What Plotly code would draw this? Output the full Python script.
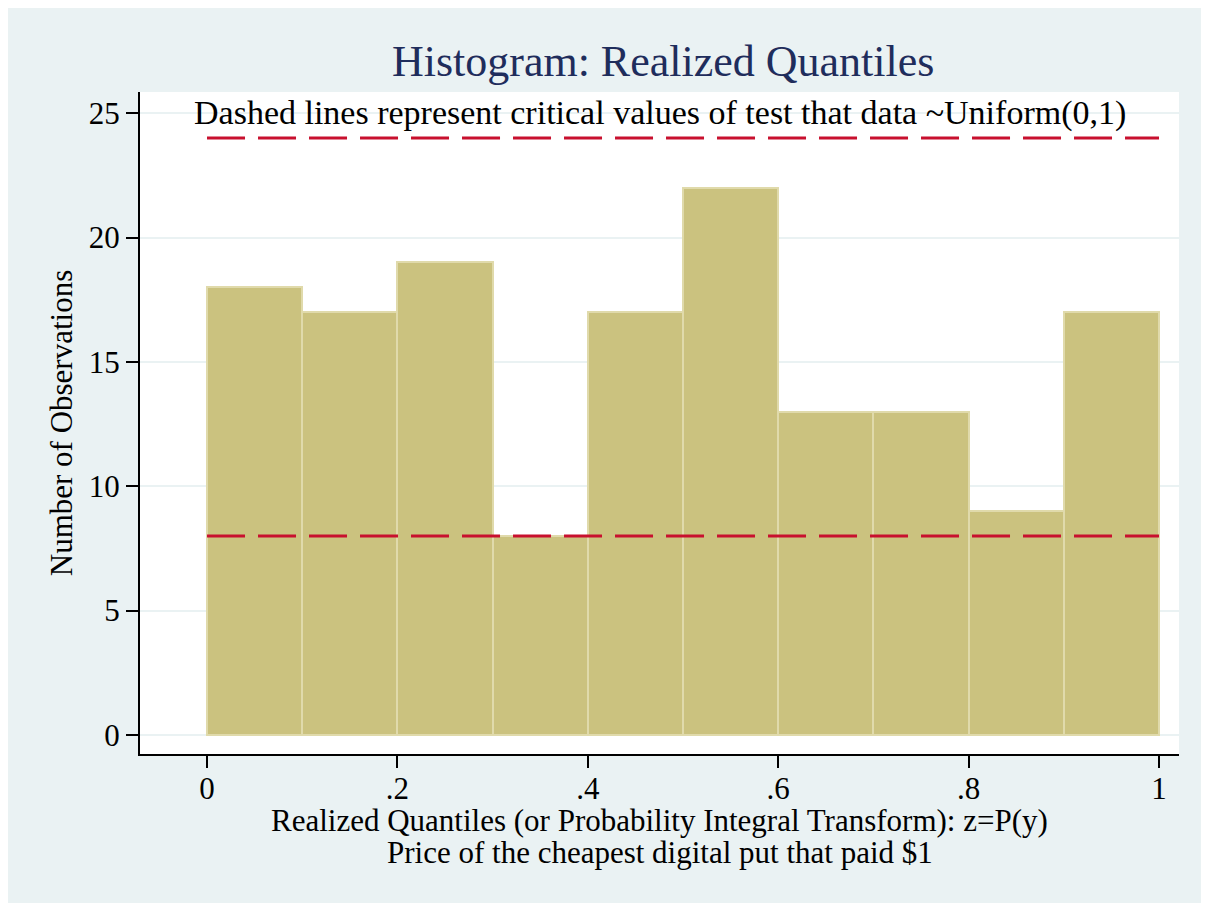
import plotly.graph_objects as go

# histogram of realized quantiles, 10 bins on [0, 1]
bin_left = [0.0, 0.1, 0.2, 0.3, 0.4, 0.5, 0.6, 0.7, 0.8, 0.9]
bin_width = 0.1
counts = [18, 17, 19, 8, 17, 22, 13, 13, 9, 17]

# critical values of the uniformity test
crit_low = 8
crit_high = 24
crit_x = [0.0, 1.0]

x_ticks = [0, 0.2, 0.4, 0.6, 0.8, 1]
x_labels = ['0', '.2', '.4', '.6', '.8', '1']
y_ticks = [0, 5, 10, 15, 20, 25]

BG = '#EAF2F3'
BAR = '#CBC27F'
BAR_EDGE = '#E0DAAB'
RED = '#C8102E'
SERIF = 'Liberation Serif, Times New Roman, serif'

fig = go.Figure()

fig.add_bar(
    x=[b + bin_width / 2 for b in bin_left], y=counts, width=bin_width,
    marker=dict(color=BAR, line=dict(color=BAR_EDGE, width=2)),
    showlegend=False,
)

for c in (crit_high, crit_low):
    fig.add_scatter(
        x=crit_x, y=[c, c], mode='lines',
        line=dict(color=RED, width=3, dash='38px,13px'),
        showlegend=False,
    )

# page body margin (8px) gives the thin white strip round the figure
fig.update_layout(
    width=1201, height=895,
    margin=dict(l=132, r=30, t=84, b=149),
    paper_bgcolor=BG,
    plot_bgcolor='white',
    font=dict(family=SERIF, size=31, color='black'),
    title=dict(
        text='Histogram: Realized Quantiles',
        font=dict(family=SERIF, size=44, color='#1F2D5C'),
        x=0.5455, xanchor='center', y=0.9408, yanchor='middle',
    ),
    bargap=0,
    annotations=[
        dict(text='Dashed lines represent critical values of test that data ~Uniform(0,1)',
             xref='paper', x=0.5, yref='y', y=25, xanchor='center', yanchor='middle',
             showarrow=False, font=dict(size=34)),
        dict(text='Realized Quantiles (or Probability Integral Transform): z=P(y)',
             xref='paper', x=0.5, yref='paper', y=-0.1012, xanchor='center', yanchor='middle',
             showarrow=False, font=dict(size=31)),
        dict(text='Price of the cheapest digital put that paid $1',
             xref='paper', x=0.5, yref='paper', y=-0.1495, xanchor='center', yanchor='middle',
             showarrow=False, font=dict(size=31)),
    ],
)

fig.update_xaxes(
    range=[-0.0704, 1.021], tickvals=x_ticks, ticktext=x_labels,
    ticks='outside', ticklen=12, tickwidth=2, tickcolor='black',
    ticklabelstandoff=-6,
    showline=True, linecolor='black', linewidth=2,
    showgrid=False, zeroline=False,
)
fig.update_yaxes(
    range=[-0.765, 25.85], tickvals=y_ticks,
    ticks='outside', ticklen=12, tickwidth=2, tickcolor='black',
    showline=True, linecolor='black', linewidth=2,
    showgrid=True, gridcolor=BG, gridwidth=2, zeroline=False,
    title=dict(text='Number of Observations', font=dict(size=31), standoff=7),
)

fig.write_html('out.html')
